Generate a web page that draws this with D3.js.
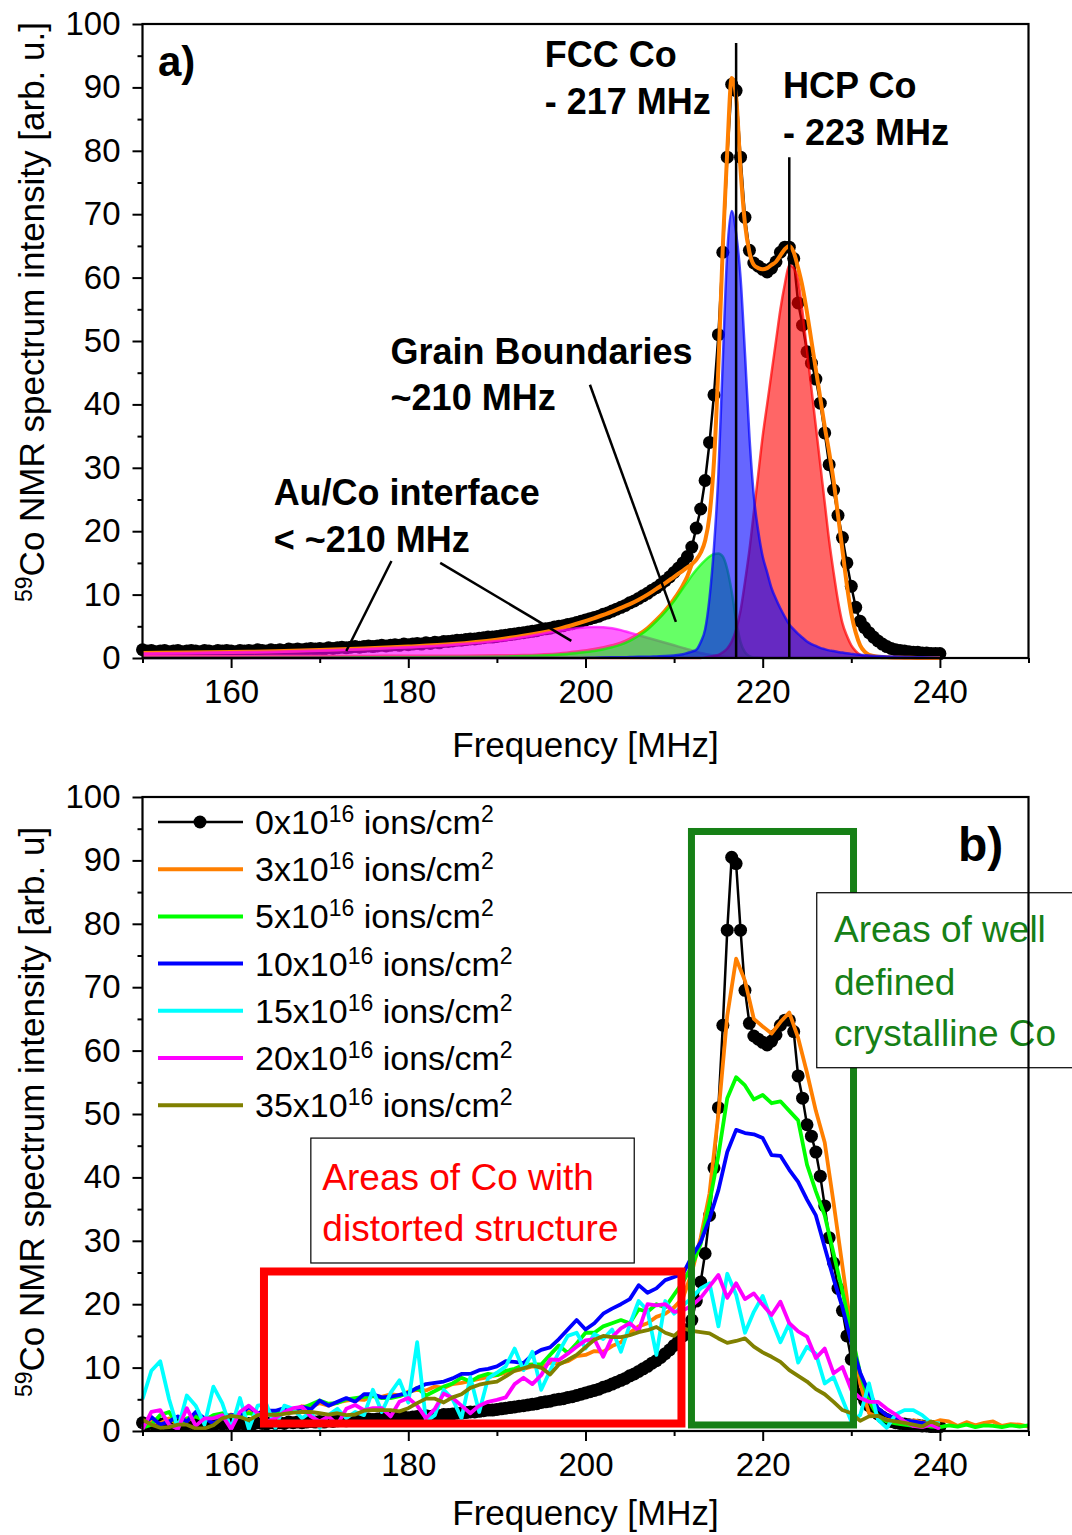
<!DOCTYPE html>
<html><head><meta charset="utf-8">
<script src="https://cdn.jsdelivr.net/npm/d3@7"></script>
<style>body{margin:0;background:#fff}svg{display:block}text{font-family:"Liberation Sans",Arial,sans-serif}</style>
</head><body><svg id="c" width="1072" height="1535"></svg>
<script>
// ---------- DATA ----------
// measured spectrum 0x10^16 (black dots), 0.5 MHz grid
const blackFreq = [150,150.5,151,151.5,152,152.5,153,153.5,154,154.5,155,155.5,156,156.5,157,157.5,158,158.5,159,159.5,
160,160.5,161,161.5,162,162.5,163,163.5,164,164.5,165,165.5,166,166.5,167,167.5,168,168.5,169,169.5,
170,170.5,171,171.5,172,172.5,173,173.5,174,174.5,175,175.5,176,176.5,177,177.5,178,178.5,179,179.5,
180,180.5,181,181.5,182,182.5,183,183.5,184,184.5,185,185.5,186,186.5,187,187.5,188,188.5,189,189.5,
190,190.5,191,191.5,192,192.5,193,193.5,194,194.5,195,195.5,196,196.5,197,197.5,198,198.5,199,199.5,
200,200.5,201,201.5,202,202.5,203,203.5,204,204.5,205,205.5,206,206.5,207,207.5,208,208.5,209,209.5,
210,210.5,211,211.5,212,212.5,213,213.5,214,214.5,215,215.5,216,216.5,217,217.5,218,218.5,219,219.5,
220,220.5,221,221.5,222,222.5,223,223.5,224,224.5,225,225.5,226,226.5,227,227.5,228,228.5,229,229.5,
230,230.5,231,231.5,232,232.5,233,233.5,234,234.5,235,235.5,236,236.5,237,237.5,238,238.5,239,239.5,240];
const blackVal = [1.3,1.1,1.2,1.0,1.1,1.2,1.0,1.1,1.2,1.0,1.1,1.2,1.1,1.0,1.2,1.1,1.0,1.2,1.1,1.2,
1.1,1.0,1.2,1.1,1.2,1.1,1.3,1.2,1.1,1.3,1.2,1.3,1.2,1.4,1.3,1.4,1.3,1.4,1.5,1.4,
1.5,1.4,1.6,1.5,1.6,1.7,1.6,1.7,1.8,1.7,1.8,1.9,1.8,1.9,2.0,1.9,2.0,2.1,2.0,2.2,
2.1,2.2,2.3,2.2,2.4,2.3,2.5,2.4,2.6,2.6,2.7,2.8,2.8,2.9,3.0,3.0,3.1,3.2,3.3,3.3,
3.4,3.5,3.6,3.7,3.8,3.9,4.0,4.1,4.2,4.3,4.5,4.6,4.7,4.9,5.0,5.1,5.3,5.4,5.6,5.8,
6.0,6.2,6.4,6.6,6.9,7.1,7.4,7.7,8.0,8.3,8.7,9.0,9.4,9.8,10.2,10.7,11.1,11.6,12.2,12.8,
13.5,14.2,15.0,16.0,17.5,20.5,23.5,28.0,34.0,41.5,51.0,64.0,79.0,90.5,89.5,79.0,69.5,64.3,62.3,61.8,
61.3,60.9,61.5,62.5,64.0,64.8,64.8,63.0,56.0,52.5,48.3,46.5,44.0,40.2,35.5,30.5,26.5,22.5,19.0,15.0,
11.3,8.0,5.8,4.8,4.0,3.3,2.7,2.2,1.8,1.5,1.3,1.2,1.1,1.0,0.9,0.9,0.8,0.8,0.7,0.7,0.7];

// panel a) fit components
const fitFreq = [150,155,160,165,170,175,180,185,190,193,195,197,199,201,203,204,205,206,207,208,209,210,211,
211.5,212,212.5,213,213.5,214,214.5,215,215.5,216,216.5,217,217.5,218,218.5,219,219.5,220,220.5,221,221.5,
222,222.5,223,223.5,224,224.5,225,225.5,226,226.5,227,227.5,228,228.5,229,229.5,230,230.5,231,231.5,232,233,234,236,238,240];
const fitTotal = [0.8,0.85,0.95,1.05,1.25,1.5,1.8,2.2,2.9,3.5,4.0,4.6,5.4,6.3,7.3,7.9,8.5,9.2,10.0,10.9,11.8,12.8,13.8,
14.3,14.8,15.5,16.6,18.5,22.5,31,46,65,80,91.5,88.5,77,68.5,64,62,61.5,61.3,61.5,62,62.5,
63.5,64.5,65,64,61.5,58.5,54.5,50,45.5,41,36.5,32.5,28,22.5,17,11.5,7,4,2,1,0.5,0.2,0.1,0.05,0,0];
const fitNoInterface = [0.15,0.15,0.15,0.2,0.2,0.2,0.25,0.25,0.3,0.35,0.45,0.6,0.9,1.3,1.9,2.3,2.9,3.7,4.7,6.0,7.5,9.3,11.5,
12.9,14.8];
const interfaceComp = [0.7,0.8,0.9,1.0,1.2,1.4,1.7,2.1,2.7,3.3,3.8,4.3,4.7,4.9,4.7,4.4,4.0,3.6,3.2,2.8,2.4,2.0,1.6,
1.4,1.2,1.0,0.8,0.65,0.5,0.4,0.3,0.2,0.15,0.1,0.08,0.06,0.05,0.04,0.03,0.02,0.02,0,0,0,
0,0,0,0,0,0,0,0,0,0,0,0,0,0,0,0,0,0,0,0,0,0,0,0,0,0];
const grainComp = [0,0,0,0.05,0.05,0.1,0.1,0.15,0.2,0.3,0.4,0.55,0.8,1.1,1.7,2.1,2.7,3.5,4.5,5.8,7.3,9.0,11.0,
12.0,13.0,13.9,14.7,15.4,16.0,16.4,16.5,16.0,14.0,10.5,6.0,2.5,0.9,0.3,0.1,0.05,0,0,0,0,
0,0,0,0,0,0,0,0,0,0,0,0,0,0,0,0,0,0,0,0,0,0,0,0,0,0];
const fccComp = [0,0,0,0,0,0,0,0,0,0,0,0,0,0.05,0.1,0.1,0.15,0.2,0.2,0.25,0.3,0.4,0.6,
0.8,1.0,1.3,2.5,4.5,9.5,17.5,29,47,64,70.5,67,60,48,35,25.5,20,16,13.5,11,9.3,
7.8,6.5,5.3,4.5,3.8,3.2,2.6,2.2,1.9,1.6,1.4,1.2,1.1,0.95,0.85,0.75,0.65,0.55,0.5,0.45,0.4,0.3,0.25,0.15,0.1,0.05];
const hcpComp = [0,0,0,0,0,0,0,0,0,0,0,0,0,0,0,0,0,0,0,0,0,0,0,
0,0,0,0,0.1,0.2,0.35,0.5,0.9,1.5,2.6,4.5,7.5,12,17,23,29,35,40,45,50,
55,59,62,61.5,59.5,54.5,48.5,42.5,36.5,30.5,24.5,18.5,13.5,9,5.5,3.5,2,1.1,0.5,0.3,0.2,0.1,0.05,0,0,0];

// panel b) irradiation series, 1 MHz grid
const freqB = [150,151,152,153,154,155,156,157,158,159,160,161,162,163,164,165,166,167,168,169,
170,171,172,173,174,175,176,177,178,179,180,181,182,183,184,185,186,187,188,189,
190,191,192,193,194,195,196,197,198,199,200,201,202,203,204,205,206,207,208,209,
210,211,212,213,214,215,216,217,218,219,220,221,222,223,224,225,226,227,228,229,
230,231,232,233,234,235,236,237,238,239,240,241,242,243,244,245,246,247,248,249,250];
const dose3 = [0.8,1.5,1.2,2.0,1.0,1.6,2.4,1.8,2.2,2.0,2.6,2.2,3.0,2.8,3.3,3.0,3.6,3.2,3.9,3.8,
4.4,4.0,4.5,4.8,5.0,4.9,5.6,5.4,5.8,5.6,6.2,6.5,6.4,7.0,6.8,7.4,7.6,7.9,8.2,8.5,
8.8,9.2,9.5,9.8,10.2,10.0,10.8,10.6,11.0,11.8,12.0,12.6,12.5,13.4,14.0,15.5,16.5,17.0,18.0,18.5,
19.5,21.0,25.0,30.5,37.5,50.0,65.5,74.5,71.0,65.0,63.8,62.7,64.5,66.0,62.0,56.5,50.5,45.5,36.0,26.0,
16.0,7.5,2.8,2.2,1.8,1.5,1.3,1.7,1.4,1.2,1.7,1.5,0.8,1.4,0.9,1.3,1.5,0.8,1.1,1.0,0.7];
const dose5 = [0.5,1.0,2.5,3.0,0.8,2.0,2.3,1.7,2.5,2.8,2.3,2.5,2.8,2.5,3.0,3.0,3.3,3.5,3.6,4.2,
4.8,4.3,4.4,5.0,5.2,5.4,5.5,5.2,5.2,5.5,6.0,6.8,5.6,6.3,7.0,7.5,8.4,7.8,8.6,9.0,
8.8,9.5,9.8,10.4,10.5,10.5,12.0,13.5,12.3,13.8,15.5,15.5,16.5,17.0,17.5,17.0,19.2,18.8,20.0,19.5,
21.5,23.5,26.0,29.5,36.0,43.5,52.5,55.8,54.5,52.3,53.0,51.7,52.0,50.5,49.0,42.0,37.8,34.0,28.0,22.0,
15.5,9.1,4.8,2.3,1.5,1.2,1.0,0.8,1.0,0.7,0.6,0.9,0.7,1.0,0.6,0.9,0.8,0.6,0.9,0.7,0.9];
const dose10 = [0.7,2.2,1.0,1.5,2.3,1.5,3.0,2.0,1.2,2.0,2.5,2.5,3.8,2.8,3.2,3.2,3.6,3.0,3.8,3.4,
4.8,4.0,4.6,5.2,4.6,5.8,5.8,5.3,5.4,5.7,6.0,6.8,7.4,7.6,7.8,8.3,9.0,9.0,9.6,9.8,
10.2,11.0,10.9,10.7,12.0,12.8,13.2,14.5,16.0,17.5,16.0,17.0,18.5,19.3,20.0,20.8,23.0,21.8,22.5,23.8,
24.3,24.8,27.5,29.8,33.5,38.0,44.0,47.5,47.0,46.8,46.2,43.5,43.4,41.2,39.3,36.5,34.0,29.0,24.0,19.5,
14.0,9.2,6.0,3.6,2.5,2.0,1.6,1.5,1.3,1.1,0.9];
const dose15 = [5.0,9.5,11.0,5.0,0.4,5.6,4.0,1.0,7.0,4.4,0.3,5.2,0.3,4.0,4.2,0.5,4.0,3.5,2.0,3.0,
0.5,2.5,3.5,2.0,3.0,2.5,6.5,3.0,6.0,8.0,4.5,14.0,1.5,2.5,6.5,5.0,2.0,8.5,3.0,8.3,
9.2,10.2,13.0,9.6,12.5,6.5,9.5,12.5,15.0,15.5,13.0,15.3,14.5,16.0,12.5,16.8,20.5,19.0,12.0,20.5,
18.5,19.8,21.0,22.5,23.3,16.5,24.8,21.5,15.5,18.8,21.3,17.5,14.0,17.0,10.8,13.3,12.2,7.5,8.5,5.0,
1.5,2.5,7.5,1.8,0.5,2.6,3.3,3.3,2.5,1.3,1.2];
const dose20 = [0.3,3.0,3.3,1.0,0.3,3.6,0.8,2.0,2.0,2.5,0.3,3.0,4.0,2.8,1.5,2.0,3.0,3.6,3.8,2.3,
1.5,2.3,1.0,3.5,4.1,3.3,3.6,3.6,2.3,4.6,5.2,4.0,2.0,3.5,5.9,5.2,4.0,2.8,4.0,4.6,
4.9,5.3,7.4,8.4,7.4,8.8,11.3,11.2,12.2,13.3,14.3,14.5,11.7,14.8,16.2,17.0,15.8,20.0,19.8,20.0,
18.8,19.0,19.8,21.0,22.8,24.6,21.0,23.3,20.8,21.7,19.9,18.3,20.4,17.0,15.7,14.9,11.5,13.0,9.1,10.1,
6.5,5.2,4.6,4.6,3.5,2.6,1.5,0.8,0.6,1.0,0.3];
const dose35 = [1.8,1.0,0.5,0.6,1.0,1.0,0.4,0.4,0.9,2.0,2.4,2.2,1.7,2.5,2.6,2.5,2.7,2.9,3.0,3.0,
2.8,2.6,2.8,2.5,2.6,3.2,3.3,3.3,3.3,3.1,3.6,4.4,5.1,5.1,4.5,5.3,5.8,6.8,7.3,7.6,
7.8,8.6,9.5,9.9,10.3,10.0,8.9,10.5,11.2,12.0,13.2,14.4,15.0,14.8,14.8,15.1,15.6,15.9,16.4,15.5,
15.0,16.2,15.8,15.6,15.4,14.6,13.9,14.2,14.6,13.3,12.4,11.7,10.9,9.6,8.7,7.8,6.6,5.8,4.6,3.3,
2.8,1.6,2.3,2.4,1.7,1.5,1.3,1.0,0.7,1.5,0.9];

const legendLabels = ["0","3","5","10","15","20","35"];
const seriesColors = ["#000000","#ff7f00","#00ff00","#0000ff","#00ffff","#ff00ff","#808000"];

const xTicksMajor = [160,180,200,220,240];
const xTicksMinor = [150,170,190,210,230,250];
const yTicksMajor = [0,10,20,30,40,50,60,70,80,90,100];
const yTicksMinor = [5,15,25,35,45,55,65,75,85,95];

// ---------- DRAW ----------
const svg = d3.select("#c");
const FONT = '"Liberation Sans",Arial,sans-serif';
const x = d3.scaleLinear().domain([150,250]).range([142.5,1028.5]);
const yA = d3.scaleLinear().domain([0,100]).range([658,24]);
const yB = d3.scaleLinear().domain([0,100]).range([1431,797]);

function axes(y, ylabel, ylabelCenter, titleOffset) {
  const g = svg.append("g");
  const xb = g.append("g").attr("transform", `translate(0,${y(0)})`);
  xb.call(d3.axisBottom(x).tickValues(xTicksMajor).tickSize(10).tickPadding(12).tickFormat(d3.format("d")));
  const xm = g.append("g").attr("transform", `translate(0,${y(0)})`);
  xm.call(d3.axisBottom(x).tickValues(xTicksMinor).tickSize(5).tickFormat(""));
  const yl = g.append("g").attr("transform", `translate(${x(150)},0)`);
  yl.call(d3.axisLeft(y).tickValues(yTicksMajor).tickSize(10).tickPadding(12).tickFormat(d3.format("d")));
  const ym = g.append("g").attr("transform", `translate(${x(150)},0)`);
  ym.call(d3.axisLeft(y).tickValues(yTicksMinor).tickSize(5).tickFormat(""));
  g.selectAll(".domain").remove();
  g.selectAll(".tick line").attr("stroke","#000").attr("stroke-width",2);
  g.selectAll(".tick text").attr("font-size",33).attr("font-family",FONT).attr("fill","#000");
  g.append("rect").attr("x",x(150)).attr("y",y(100)).attr("width",x(250)-x(150)).attr("height",y(0)-y(100))
    .attr("fill","none").attr("stroke","#000").attr("stroke-width",2.2);
  g.append("text").attr("x",x(200)).attr("y",y(0)+titleOffset).attr("text-anchor","middle")
    .attr("font-size",35).attr("font-family",FONT).text("Frequency [MHz]");
  const t = g.append("text").attr("transform",`translate(44,${ylabelCenter}) rotate(-90)`)
    .attr("text-anchor","middle").attr("font-size",35).attr("font-family",FONT);
  t.append("tspan").attr("font-size",23).attr("dy",-12).text("59");
  t.append("tspan").attr("dy",12).text(ylabel);
}

// ---- panel a ----
const gA = svg.append("g");
const pairs = (xs, ys) => ys.map((v,i)=>[xs[i], v]);
const lineA = d3.line().x(d=>x(d[0])).y(d=>yA(d[1]));
const blackPts = pairs(blackFreq, blackVal);
gA.append("path").attr("d", lineA(blackPts)).attr("fill","none").attr("stroke","#000").attr("stroke-width",2.5);
gA.selectAll("circle.k").data(blackPts).enter().append("circle")
  .attr("cx",d=>x(d[0])).attr("cy",d=>yA(d[1])).attr("r",6.5).attr("fill","#000");
const smooth = d3.line().x(d=>x(d[0])).y(d=>yA(d[1])).curve(d3.curveMonotoneX);
gA.append("path").attr("d", smooth(pairs(fitFreq, fitTotal))).attr("fill","none").attr("stroke","#ff7f00").attr("stroke-width",4);
gA.append("path").attr("d", smooth(pairs(fitFreq, fitNoInterface))).attr("fill","none").attr("stroke","#ff7f00").attr("stroke-width",4);
const area = d3.area().x(d=>x(d[0])).y0(yA(0)).y1(d=>yA(d[1])).curve(d3.curveMonotoneX);
const comps = [
  {v: interfaceComp, c:"#ff00ff"},
  {v: grainComp, c:"#00ff00"},
  {v: hcpComp, c:"#ff0000"},
  {v: fccComp, c:"#0000ff"}
];
comps.forEach(cp=>{
  const pts = pairs(fitFreq, cp.v);
  gA.append("path").attr("d", area(pts)).attr("fill",cp.c).attr("fill-opacity",0.6);
  gA.append("path").attr("d", smooth(pts)).attr("fill","none").attr("stroke",cp.c).attr("stroke-opacity",0.7).attr("stroke-width",2.5);
});
const markerLines = [{f:217, top:97},{f:223, top:79}];
gA.selectAll("line.m").data(markerLines).enter().append("line")
  .attr("x1",d=>x(d.f)).attr("x2",d=>x(d.f)).attr("y1",d=>yA(d.top)).attr("y2",yA(0))
  .attr("stroke","#000").attr("stroke-width",2.5);
const pointers = [
  {f1:200.5,v1:43.1,f2:210.2,v2:5.7},
  {f1:178.1,v1:15.3,f2:173.0,v2:1.1},
  {f1:183.6,v1:15.0,f2:198.4,v2:2.7}
];
gA.selectAll("line.p").data(pointers).enter().append("line")
  .attr("x1",d=>x(d.f1)).attr("y1",d=>yA(d.v1)).attr("x2",d=>x(d.f2)).attr("y2",d=>yA(d.v2))
  .attr("stroke","#000").attr("stroke-width",2.5);
const notesA = [
  {t:"FCC Co", f:195.4, v:93.2},{t:"- 217 MHz", f:195.4, v:85.8},
  {t:"HCP Co", f:222.3, v:88.3},{t:"- 223 MHz", f:222.3, v:80.9},
  {t:"Grain Boundaries", f:178, v:46.4},{t:"~210 MHz", f:178, v:39.1},
  {t:"Au/Co interface", f:164.8, v:24.1},{t:"< ~210 MHz", f:164.8, v:16.7}
];
gA.selectAll("text.n").data(notesA).enter().append("text")
  .attr("x",d=>x(d.f)).attr("y",d=>yA(d.v)).attr("font-size",36).attr("font-weight","bold")
  .attr("font-family",FONT).text(d=>d.t);
gA.append("text").attr("x",158).attr("y",76).attr("font-size",42).attr("font-weight","bold").attr("font-family",FONT).text("a)");
axes(yA, "Co NMR spectrum intensity [arb. u.]", 312, 99);

// ---- panel b ----
const gB = svg.append("g");
const lineB = d3.line().x(d=>x(d[0])).y(d=>yB(d[1]));
const blackPtsB = pairs(blackFreq, blackVal);
gB.append("path").attr("d", lineB(blackPtsB)).attr("fill","none").attr("stroke","#000").attr("stroke-width",2.5);
gB.selectAll("circle.k").data(blackPtsB).enter().append("circle")
  .attr("cx",d=>x(d[0])).attr("cy",d=>yB(d[1])).attr("r",6.5).attr("fill","#000");
const doseSeries = [dose3, dose5, dose10, dose15, dose20, dose35];
doseSeries.forEach((s,i)=>{
  gB.append("path").attr("d", lineB(pairs(freqB, s))).attr("fill","none")
    .attr("stroke",seriesColors[i+1]).attr("stroke-width",3.8).attr("stroke-linejoin","round");
});
const regionBoxes = [
  {f0:163.71, f1:210.83, v0:1.18, v1:25.16, c:"#ff0000", w:8},
  {f0:211.96, f1:230.25, v0:0.95, v1:94.56, c:"#168016", w:7}
];
gB.selectAll("rect.r").data(regionBoxes).enter().append("rect")
  .attr("x",d=>x(d.f0)).attr("y",d=>yB(d.v1)).attr("width",d=>x(d.f1)-x(d.f0)).attr("height",d=>yB(d.v0)-yB(d.v1))
  .attr("fill","none").attr("stroke",d=>d.c).attr("stroke-width",d=>d.w);
const textBoxes = [
  {f0:169.0, f1:205.5, v0:26.5, v1:46.2, c:"#ff0000", tf:170.3, lines:[["Areas of Co with",38.0],["distorted structure",30.0]]},
  {f0:226.1, f1:256, v0:57.3, v1:84.9, c:"#168016", tf:228.05, lines:[["Areas of well",77.1],["defined",68.8],["crystalline Co",60.7]]}
];
textBoxes.forEach(b=>{
  gB.append("rect").attr("x",x(b.f0)).attr("y",yB(b.v1)).attr("width",x(b.f1)-x(b.f0)).attr("height",yB(b.v0)-yB(b.v1))
    .attr("fill","#fff").attr("stroke","#000").attr("stroke-width",1.2);
  b.lines.forEach(l=>{
    gB.append("text").attr("x",x(b.tf)).attr("y",yB(l[1])).attr("font-size",37).attr("font-family",FONT)
      .attr("fill",b.c).text(l[0]);
  });
});
const lg = gB.append("g");
legendLabels.forEach((lab,i)=>{
  const cy = 822 + i*47.2;
  lg.append("line").attr("x1",158).attr("x2",243).attr("y1",cy).attr("y2",cy)
    .attr("stroke",seriesColors[i]).attr("stroke-width",i===0?2.5:4);
  if(i===0) lg.append("circle").attr("cx",200).attr("cy",cy).attr("r",6.5).attr("fill","#000");
  const t = lg.append("text").attr("x",255).attr("y",cy+12).attr("font-size",34).attr("font-family",FONT);
  t.append("tspan").text(lab+"x10");
  t.append("tspan").attr("font-size",23).attr("dy",-12).text("16");
  t.append("tspan").attr("dy",12).text(" ions/cm");
  t.append("tspan").attr("font-size",23).attr("dy",-12).text("2");
});
gB.append("text").attr("x",958).attr("y",861).attr("font-size",48).attr("font-weight","bold").attr("font-family",FONT).text("b)");
axes(yB, "Co NMR spectrum intensity [arb. u]", 1112, 94);
</script></body></html>
